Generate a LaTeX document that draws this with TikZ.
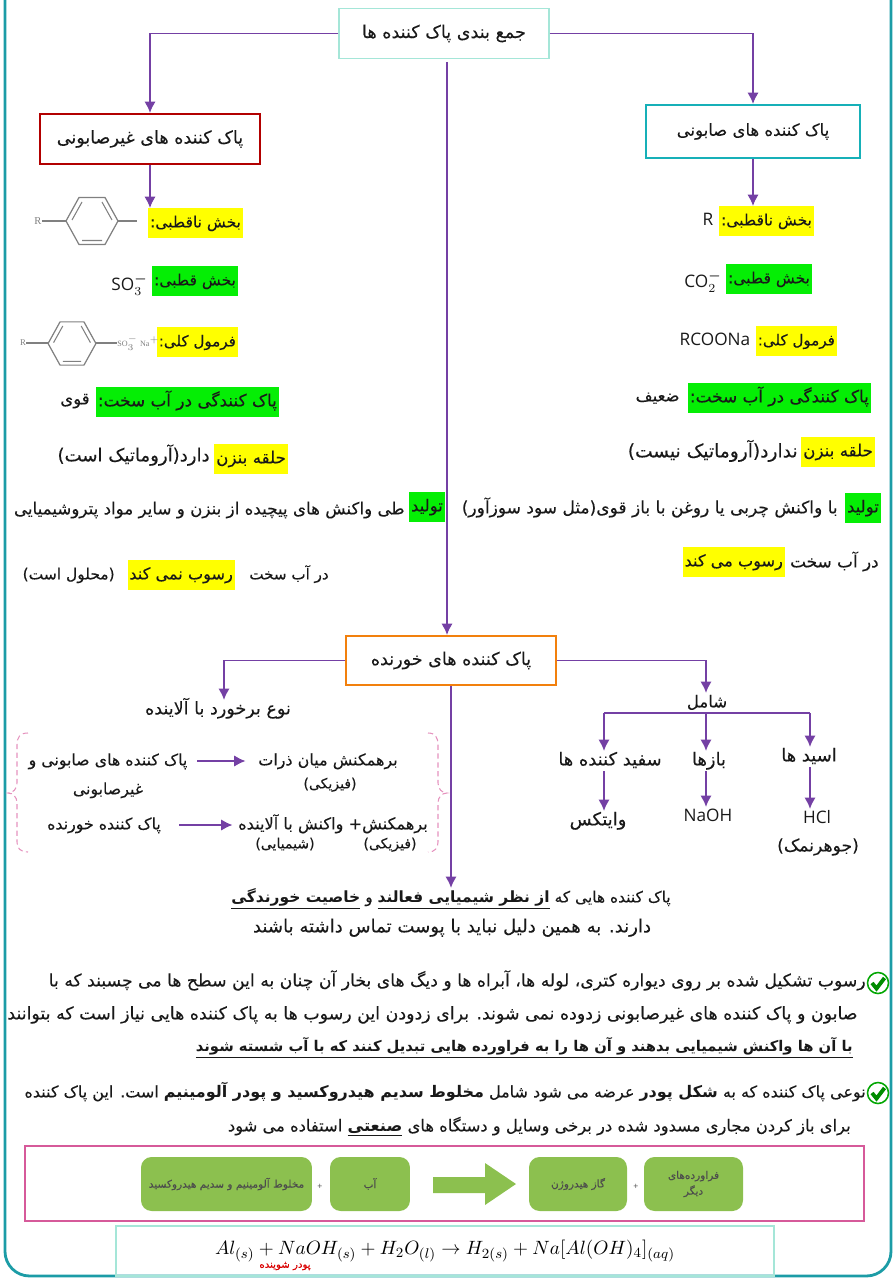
\documentclass[tikz,border=0pt]{standalone}
\usepackage[no-math]{fontspec}
\usepackage{amsmath}
\usepackage{xcolor}
\usepackage{tikz}
\usetikzlibrary{arrows.meta}
\setmainfont{Open Sans}
\newfontfamily\arabicfont[Script=Arabic,FakeBold=0.15,BoldFeatures={FakeBold=0}]{DejaVu Sans}
\newfontfamily\chemfont{Liberation Serif}
\TeXXeTstate=1
\newcommand{\fa}[1]{{\arabicfont\beginR #1\endR}}
\newcommand{\fabf}[1]{{\bfseries #1}}
\newcommand{\faul}[1]{\underline{\beginR\bfseries #1\endR}}
\definecolor{arrowpurple}{HTML}{7440A4}
\definecolor{framecolor}{HTML}{1C9CA6}
\definecolor{paleteal}{HTML}{A5E6D8}
\definecolor{hlyellow}{HTML}{FFFF00}
\definecolor{hlgreen}{HTML}{05EE05}
\definecolor{leafgreen}{HTML}{8CC04F}
\definecolor{bracepink}{HTML}{E592BE}
\definecolor{panelpink}{HTML}{D65A9A}
\tikzset{
  fs/.style={font=\fontsize{#1}{12}\selectfont},
  txt/.style={inner sep=0pt, text height=8pt, text depth=3pt, fs=9.4, text=black!90},
  hly/.style={txt, fill=hlyellow, inner xsep=1pt, inner ysep=2.8pt},
  hlg/.style={txt, fill=hlgreen, inner xsep=1pt, inner ysep=2.8pt},
  mainbox/.style={draw, line width=1.1pt, inner sep=0pt, minimum width=4.2cm, minimum height=1cm, fs=10, text=black!90},
  leaf/.style={fill=leafgreen, rounded corners=6pt, inner sep=0pt, minimum height=1.08cm, font=\fontsize{6}{9}\selectfont, text=black!70, align=center},
  plus/.style={inner sep=0pt, font=\fontsize{5}{6}\selectfont, text=black!70},
  link/.style={arrowpurple, line width=1.1pt},
  ring/.pic={
    \draw [gray, line width=0.7pt] (-26,0) -- (-13,-23.5) -- (13,-23.5) -- (26,0) -- (13,23.5) -- (-13,23.5) -- cycle;
    \draw [gray, line width=0.6pt] (-20,-1) -- (-10,-19) (20,-1) -- (10,-19) (-10,19.5) -- (10,19.5);
  },
  tick/.pic={
    \draw [draw=hlgreen!70!black, fill=white, line width=0.9pt] (0,0) circle (10.5);
    \draw [draw=green!55!black, line width=2.2pt] (-6,0) -- (-1.5,5.5) -- (6.5,-5);
  }
}

\begin{document}
\begin{tikzpicture}[x=0.02cm, y=-0.02cm, >={Latex[length=6.5pt,width=6.5pt]}]
\useasboundingbox (0,0) rectangle (894,1280);
\draw [framecolor, line width=1.6pt, rounded corners=14pt] (5,0) -- (5,1276) -- (891,1276) -- (891,0);

% top of the chart
\node at (444,33.5) [mainbox, draw=paleteal, line width=0.7pt] (title) {\fa{جمع بندی پاک کننده ها}};
\node at (150,139) [mainbox, draw=red!70!black, minimum width=4.4cm] (nonsoap) {\fa{پاک کننده های غیرصابونی}};
\node at (753,131.5) [mainbox, draw=framecolor!80!cyan, minimum width=4.28cm, minimum height=1.06cm, fs=9.4] (soap) {\fa{پاک کننده های صابونی}};
\node at (451,660.5) [mainbox, draw=orange!80!brown, minimum height=0.98cm] (corrosive) {\fa{پاک کننده های خورنده}};
\coordinate (titlefoot) at (447,62);

% left column
\node at (243,223) [hly, anchor=east, fs=8.8] (npolarA) {\fa{بخش ناقطبی:}};
\node at (238,281) [hlg, anchor=east, fs=8.8] (polarA) {\fa{بخش قطبی:}};
\node at (148,286) [txt, anchor=east, fs=9.8] (so3) {SO$_3^{\boldsymbol{-}}$};
\node at (238,342) [hly, anchor=east, fs=8.6] (formulaA) {\fa{فرمول کلی:}};
\node at (279,402) [hlg, anchor=east, fs=9.6] (hardA) {\fa{پاک کنندگی در آب سخت:}};
\node at (90,400) [txt, anchor=east] (strong) {\fa{قوی}};
\node at (288,459) [hly, anchor=east, fs=9.5] (ringA) {\fa{حلقه بنزن}};
\node at (210,457) [txt, anchor=east, fs=10.3] (aromA) {\fa{دارد(آروماتیک است)}};
\node at (445,507) [hlg, anchor=east] (makeA) {\fa{تولید}};
\node at (405,510) [txt, anchor=east, fs=9.5] (makeAtext) {\fa{طی واکنش های پیچیده از بنزن و سایر مواد پتروشیمیایی}};
\node at (329,575) [txt, anchor=east, fs=8.6] (inhardA) {\fa{در آب سخت}};
\node at (235,575) [hly, anchor=east, fs=9.2] (noscum) {\fa{رسوب نمی کند}};
\node at (115,575) [txt, anchor=east, fs=8.8] (soluble) {\fa{(محلول است)}};
\pic at (92,221) {ring};
\pic [scale=0.92] at (72,343.5) {ring};
\node at (38,221) [inner sep=0pt, font=\chemfont\fontsize{6}{7}\selectfont, text=gray] (rA) {R};
\coordinate (rAend) at (66,221);
\coordinate (ringAa) at (118,221);
\coordinate (ringAb) at (137,221);
\draw [gray, line width=0.7pt] (rA) -- (rAend);
\draw [gray, line width=0.7pt] (ringAa) -- (ringAb);
\node at (23,343) [inner sep=0pt, font=\chemfont\fontsize{5}{6}\selectfont, text=gray] (rB) {R};
\node at (117,343) [anchor=west, inner sep=0pt, font=\chemfont\fontsize{4.6}{6}\selectfont, text=gray] (salt) {SO$_3^-$ Na$^+$};
\coordinate (rBend) at (48,343);
\coordinate (ringBa) at (96,343);
\draw [gray, line width=0.7pt] (rB) -- (rBend);
\draw [gray, line width=0.7pt] (ringBa) -- (salt);

% right column
\node at (814,221) [hly, anchor=east, fs=8.8] (npolarB) {\fa{بخش ناقطبی:}};
\node at (708,221) [txt, fs=9.8] (rC) {R};
\node at (812,279) [hlg, anchor=east, fs=8.8] (polarB) {\fa{بخش قطبی:}};
\node at (703,283) [txt, fs=9.8] (co2) {CO$_2^{\boldsymbol{-}}$};
\node at (837,341) [hly, anchor=east, fs=8.6] (formulaB) {\fa{فرمول کلی:}};
\node at (715,341) [txt, fs=9.8] (rcoona) {RCOONa};
\node at (871,398) [hlg, anchor=east, fs=9.6] (hardB) {\fa{پاک کنندگی در آب سخت:}};
\node at (680,397) [txt, anchor=east] (weak) {\fa{ضعیف}};
\node at (875,452) [hly, anchor=east, fs=9.5] (ringB) {\fa{حلقه بنزن}};
\node at (798,453) [txt, anchor=east, fs=10.6] (aromB) {\fa{ندارد(آروماتیک نیست)}};
\node at (881,508) [hlg, anchor=east] (makeB) {\fa{تولید}};
\node at (838,509) [txt, anchor=east, fs=9.7] (makeBtext) {\fa{با واکنش چربی یا روغن با باز قوی(مثل سود سوزآور)}};
\node at (879,563) [txt, anchor=east, fs=9.6] (inhardB) {\fa{در آب سخت}};
\node at (785,562) [hly, anchor=east, fs=9.2] (scum) {\fa{رسوب می کند}};

% corrosive part
\node at (218,710) [txt, fs=10] (contact) {\fa{نوع برخورد با آلاینده}};
\node at (707,703) [txt, fs=9.4] (incl) {\fa{شامل}};
\node at (610,761) [txt, fs=10.2] (bleach) {\fa{سفید کننده ها}};
\node at (709,761) [txt, fs=10.2] (bases) {\fa{بازها}};
\node at (809,757) [txt, fs=10.2] (acids) {\fa{اسید ها}};
\node at (598,821) [txt, fs=10.2] (whitex) {\fa{وایتکس}};
\node at (708,817) [txt, fs=9.8] (naoh) {NaOH};
\node at (817,819) [txt, fs=9.8] (hcl) {HCl};
\node at (818,847) [txt, fs=9.8] (jowhar) {\fa{(جوهرنمک)}};
\coordinate (inclfoot) at (706,713);
\coordinate (bleachtop) at (604,713);
\coordinate (acidtop) at (810,713);

\node at (108,761) [txt, fs=9] (typeA) {\fa{پاک کننده های صابونی و}};
\node at (108,790) [txt, fs=9] (typeAb) {\fa{غیرصابونی}};
\node at (328,761) [txt, fs=9.1] (physA) {\fa{برهمکنش میان ذرات}};
\node at (330,784) [txt, fs=8] (physAb) {\fa{(فیزیکی)}};
\node at (104,825) [txt, fs=9] (typeB) {\fa{پاک کننده خورنده}};
\node at (333,825) [txt, fs=9.2] (physB) {\fa{برهمکنش+ واکنش با آلاینده}};
\node at (285,844) [txt, fs=8] (chemB) {\fa{(شیمیایی)}};
\node at (390,844) [txt, fs=8] (physBb) {\fa{(فیزیکی)}};
\draw [bracepink, dash pattern=on 3pt off 2pt, line width=0.6pt] (28,733) .. controls (20,733) and (17,737) .. (17,745) -- (17,783) .. controls (17,789) and (13,793) .. (8,793) .. controls (13,793) and (17,797) .. (17,803) -- (17,842) .. controls (17,848) and (20,852) .. (28,852);
\draw [bracepink, dash pattern=on 3pt off 2pt, line width=0.6pt] (428,733) .. controls (435,733) and (438,737) .. (438,745) -- (438,783) .. controls (438,789) and (442,793) .. (447,793) .. controls (442,793) and (438,797) .. (438,803) -- (438,842) .. controls (438,848) and (435,852) .. (428,852);

% text under the chart
\node at (451,898) [txt, fs=8.8] (paraA) {\fa{پاک کننده هایی که \faul{از نظر شیمیایی فعالند} و \faul{خاصیت خورندگی}}};
\node at (452,928) [txt, fs=10.3] (paraB) {\fa{دارند. به همین دلیل نباید با پوست تماس داشته باشند}};
\pic at (878,983) {tick};
\node at (866,982) [txt, anchor=east, fs=9.8] (lineA) {\fa{رسوب تشکیل شده بر روی دیواره کتری، لوله ها، آبراه ها و دیگ های بخار آن چنان به این سطح ها می چسبند که با}};
\node at (858,1015) [txt, anchor=east, fs=9.9] (lineB) {\fa{صابون و پاک کننده های غیرصابونی زدوده نمی شوند. برای زدودن این رسوب ها به پاک کننده هایی نیاز است که بتوانند}};
\node at (853,1047) [txt, anchor=east, fs=8.4] (lineC) {\fa{\faul{با آن ها واکنش شیمیایی بدهند و آن ها را به فراورده هایی تبدیل کنند که با آب شسته شوند}}};
\pic at (878,1093) {tick};
\node at (866,1093) [txt, anchor=east, fs=9.1] (lineD) {\fa{نوعی پاک کننده که به \fabf{شکل پودر} عرضه می شود شامل \fabf{مخلوط سدیم هیدروکسید و پودر آلومینیم} است. این پاک کننده}};
\node at (851,1127) [txt, anchor=east, fs=9.3] (lineE) {\fa{برای باز کردن مجاری مسدود شده در برخی وسایل و دستگاه های \faul{صنعتی} استفاده می شود}};

% reaction panel
\node at (444.5,1183.5) [draw=panelpink, line width=1.1pt, minimum width=16.78cm, minimum height=1.5cm, inner sep=0pt] (panel) {};
\node at (226.5,1184) [leaf, minimum width=3.42cm] (mix) {\fa{مخلوط آلومینیم و سدیم هیدروکسید}};
\node at (320,1187) [plus] (plusA) {+};
\node at (370,1184) [leaf, minimum width=1.6cm] (water) {\fa{آب}};
\node at (578,1184) [leaf, minimum width=1.96cm] (hydrogen) {\fa{گاز هیدروژن}};
\node at (636,1187) [plus] (plusB) {+};
\node at (693.5,1184) [leaf, minimum width=1.98cm] (other) {\fa{فراورده‌های}\\\fa{دیگر}};
\fill [leafgreen] (433,1177) -- (485,1177) -- (485,1163) -- (516,1184) -- (485,1205) -- (485,1193) -- (433,1193) -- cycle;
\node at (445,1251) [draw=paleteal, line width=0.7pt, minimum width=13.16cm, minimum height=1cm, inner sep=0pt, font=\fontsize{11.4}{14}\selectfont] (equation) {$Al_{(s)}+NaOH_{(s)}+H_2O_{(l)}\rightarrow H_{2(s)}+Na[Al(OH)_4]_{(aq)}$};
\node at (285,1266) [inner sep=0pt, font=\fontsize{5.8}{7}\selectfont, text=red!85!black] (powder) {\fa{پودر شوینده}};

% arrows
\draw [link, ->] (title.west) -| (nonsoap.north);
\draw [link, ->] (title.east) -| (soap.north);
\draw [link, ->] (titlefoot) to (titlefoot |- corrosive.north);
\draw [link, ->] (nonsoap.south) to (nonsoap.south |- npolarA.north);
\draw [link, ->] (soap.south) to (soap.south |- npolarB.north);
\draw [link, ->] (corrosive.west) -| (contact.north -| 224,0);
\draw [link, ->] (corrosive.east) -| (inclfoot |- incl.north);
\draw [link, ->] (corrosive.south) to (paraA.north);
\draw [link] (bleachtop) to (acidtop);
\draw [link, ->] (bleachtop) to (bleachtop |- bleach.north);
\draw [link, ->] (inclfoot) to (inclfoot |- bases.north);
\draw [link, ->] (acidtop) to (acidtop |- acids.north);
\draw [link, ->] (bleachtop |- bleach.south) to (bleachtop |- whitex.north);
\draw [link, ->] (inclfoot |- bases.south) to (inclfoot |- naoh.north);
\draw [link, ->] (acidtop |- acids.south) to (acidtop |- hcl.north);
\draw [link, ->, shorten >=7pt] (typeA.east -| 197,0) to (physA.west);
\draw [link, ->, shorten >=3pt] (typeB.east -| 179,0) to (physB.west);
\end{tikzpicture}
\end{document}
